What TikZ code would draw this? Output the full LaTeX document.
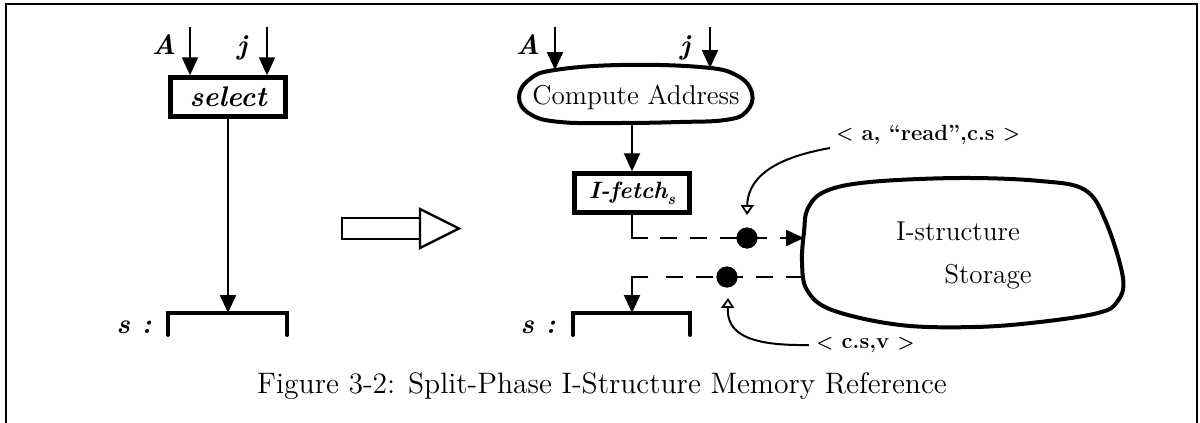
\documentclass[tikz,border=0pt]{standalone}
\usetikzlibrary{arrows.meta}
\newcommand\smlt{{\fontsize{9.5}{9}\selectfont\raisebox{0.1ex}{<}}}
\newcommand\smgt{{\fontsize{9.5}{9}\selectfont\raisebox{0.1ex}{>}}}
\begin{document}
\begin{tikzpicture}[x=0.5pt,y=-0.5pt,
  conn/.style={line width=1pt},
  arr/.style={-{Triangle[length=9pt,width=8pt]}},
  openarr/.style={-{Triangle[open,length=5pt,width=6.5pt,line width=0.9pt]}},
  opbox/.style={draw,line width=2.2pt,minimum width=57.5pt,minimum height=19.5pt,inner sep=0pt,
    font=\fontsize{14.2}{16}\selectfont\bfseries\itshape},
  lbl/.style={font=\fontsize{14}{16}\selectfont\bfseries\itshape,inner sep=0pt},
  brk/.style={line width=2pt,line cap=round},
  blob/.style={line width=2pt},
  dashline/.style={conn,dash pattern=on 8.5pt off 6.5pt},
  dot/.style={circle,fill,minimum size=10.5pt,inner sep=0pt},
  rlbl/.style={font=\fontsize{11}{13}\selectfont\bfseries,inner sep=0pt},
  txt/.style={font=\fontsize{13.6}{15}\selectfont,inner sep=0pt}]
\useasboundingbox (0,0) rectangle (1200,423);
% frame
\draw[line width=1.1pt] (6,430) -- (6,4) -- (1197,4) -- (1197,430);

% ---------- left diagram ----------
\node[opbox] (sel) at (228,97) {select};
\coordinate (a1s) at (190,27);
\coordinate (j1s) at (267,27);
\node[lbl] (lA1) at (164,45) {A};
\node[lbl] (lj1) at (242,48) {j};
\draw[conn,arr] (a1s) -- (a1s |- sel.north);
\draw[conn,arr] (j1s) -- (j1s |- sel.north);
\coordinate (br1) at (228,313);
\draw[conn,arr] (sel.south) -- (br1);
\draw[brk] ([shift={(-60,22)}]br1) -- ([shift={(-60,0)}]br1) -- ([shift={(59,0)}]br1) -- ([shift={(59,22)}]br1);
\node[lbl] (s1) at (134,327) {s :};

% ---------- hollow arrow ----------
\draw[line width=1.2pt] (342,218) rectangle (420,239);
\draw[line width=1.2pt,line join=miter] (420,209) -- (459,228.5) -- (420,248) -- cycle;

% ---------- right diagram ----------
\node[txt] (ca) at (636,97) {Compute Address};
\draw[blob] plot[smooth cycle,tension=0.7] coordinates {
  (519,97) (530,79) (555,70) (620,65) (700,67) (736,75) (752,93) (746,112)
  (725,120) (680,122) (620,123) (560,122) (530,114)};
\coordinate (ca1) at (555,70);
\coordinate (ca2) at (710,68);
\coordinate (ca3) at (632,122);
\coordinate (a2s) at (555,27);
\coordinate (j2s) at (710,27);
\node[lbl] (lA2) at (528,45) {A};
\node[lbl] (lj2) at (685,48) {j};
\draw[conn,arr] (a2s) -- (ca1);
\draw[conn,arr] (j2s) -- (ca2);

\node[opbox,font=\fontsize{11.8}{14}\selectfont\bfseries\itshape] (if) at (632,193) {I-fetch\raisebox{-0.6ex}{\fontsize{8}{8}\selectfont s}};
\draw[conn,arr] (ca3) -- (if.north);

\coordinate (br2) at (632,313);
\draw[brk] ([shift={(-59,22)}]br2) -- ([shift={(-59,0)}]br2) -- ([shift={(58,0)}]br2) -- ([shift={(58,22)}]br2);
\node[lbl] (s2) at (538,327) {s :};

% storage
\draw[blob] plot[smooth cycle,tension=0.6] coordinates {
  (808,208) (826,191) (870,182) (960,178) (1040,181) (1085,190)
  (1106,222) (1123,278) (1117,302) (1098,313) (1040,322) (975,327) (900,325) (832,310)
  (807,290) (802,262) (804,232)};
\node[txt] (ist) at (958,231) {I-structure};
\node[txt] (sto) at (988,277) {Storage};
\coordinate (st1) at (804,238);
\coordinate (st2) at (803,277);

% request path
\node[dot] (d1) at (747,238) {};
\coordinate (k1) at (632,238);
\coordinate (k1b) at (648,238);
\draw[conn] (if.south) -- (k1) -- (k1b);
\draw[dashline,arr] ([xshift=6pt]k1b) -- (st1);
\node[dot] at (d1) {};

% response path
\node[dot] (d2) at (727,277) {};
\coordinate (k2) at (632,277);
\coordinate (k2b) at (648,277);
\draw[dashline] (st2) -- ([xshift=6pt]k2b);
\draw[conn,arr] (k2b) -- (k2) -- (br2);
\node[dot] at (d2) {};

% message labels
\node[rlbl,anchor=west] (rl1) at (836,135) {\smlt{} a, ``read'',c.s \smgt};
\coordinate (c1s) at (830,148);
\coordinate (t1) at (747,215);
\draw[conn,openarr] (c1s) .. controls (785,156) and (748,172) .. (t1);

\node[rlbl,anchor=west] (rl2) at (816,345) {\smlt{} c.s,v \smgt};
\coordinate (c2s) at (809,345);
\coordinate (t2) at (728,298);
\draw[conn,openarr] (c2s) .. controls (745,346) and (727,332) .. (t2);

% caption
\node[txt,font=\fontsize{14.8}{17}\selectfont] (cap) at (602,386) {Figure 3-2: Split-Phase I-Structure Memory Reference};
\end{tikzpicture}
\end{document}
